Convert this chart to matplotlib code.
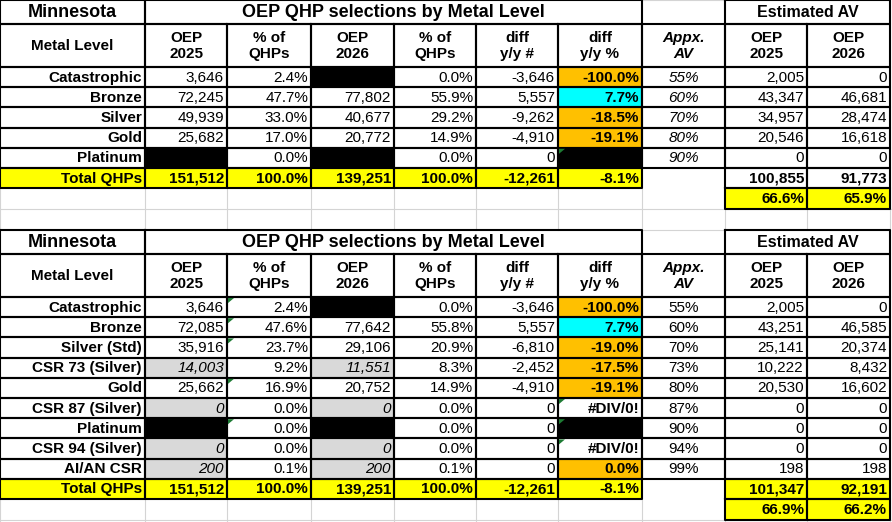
import matplotlib
matplotlib.use('Agg')
import matplotlib.pyplot as plt
from matplotlib.patches import Rectangle, Polygon

plt.rcParams['font.family'] = ['Liberation Sans', 'DejaVu Sans']

# ---- data: top table (simple metal levels) ----
levels1 = ['Catastrophic', 'Bronze', 'Silver', 'Gold', 'Platinum']
oep25_1 = [3646, 72245, 49939, 25682, None]
pct25_1 = [2.4, 47.7, 33.0, 17.0, 0.0]
oep26_1 = [None, 77802, 40677, 20772, None]
pct26_1 = [0.0, 55.9, 29.2, 14.9, 0.0]
diff_1 = [-3646, 5557, -9262, -4910, 0]
diffpct_1 = [-100.0, 7.7, -18.5, -19.1, None]
av_1 = [55, 60, 70, 80, 90]
est25_1 = [2005, 43347, 34957, 20546, 0]
est26_1 = [0, 46681, 28474, 16618, 0]
tot_1 = [151512, 100.0, 139251, 100.0, -12261, -8.1]
esttot_1 = [100855, 91773]
estpct_1 = [66.6, 65.9]

# ---- data: bottom table (with CSR breakout) ----
levels2 = ['Catastrophic', 'Bronze', 'Silver (Std)', 'CSR 73 (Silver)', 'Gold',
           'CSR 87 (Silver)', 'Platinum', 'CSR 94 (Silver)', 'AI/AN CSR']
oep25_2 = [3646, 72085, 35916, 14003, 25662, 0, None, 0, 200]
pct25_2 = [2.4, 47.6, 23.7, 9.2, 16.9, 0.0, 0.0, 0.0, 0.1]
oep26_2 = [None, 77642, 29106, 11551, 20752, 0, None, 0, 200]
pct26_2 = [0.0, 55.8, 20.9, 8.3, 14.9, 0.0, 0.0, 0.0, 0.1]
diff_2 = [-3646, 5557, -6810, -2452, -4910, 0, 0, 0, 0]
diffpct_2 = [-100.0, 7.7, -19.0, -17.5, -19.1, '#DIV/0!', None, '#DIV/0!', 0.0]
av_2 = [55, 60, 70, 73, 80, 87, 90, 94, 99]
est25_2 = [2005, 43251, 25141, 10222, 20530, 0, 0, 0, 198]
est26_2 = [0, 46585, 20374, 8432, 16602, 0, 0, 0, 198]
tot_2 = [151512, 100.0, 139251, 100.0, -12261, -8.1]
esttot_2 = [101347, 92191]
estpct_2 = [66.9, 66.2]
csr_rows_2 = [3, 5, 7, 8]

col_heads = ['Metal Level', 'OEP\n2025', '% of\nQHPs', 'OEP\n2026', '% of\nQHPs',
             'diff\ny/y #', 'diff\ny/y %', 'Appx.\nAV', 'OEP\n2025', 'OEP\n2026']

ORANGE = '#FFC000'
CYAN = '#00FFFF'
YELLOW = '#FFFF00'
GRAY = '#D9D9D9'
GRID = '#D4D4D4'
GREEN = '#1E7B34'

FS = 11      # cell text
FS_T = 13    # block title

xs = [0, 145, 227, 311, 394, 476, 558, 642, 725, 807, 890]
title_h = 24
head_h = 43
row_h = 20.2

fig = plt.figure(figsize=(8.92, 5.22), dpi=100)
ax = fig.add_axes([0, 0, 1, 1])
ax.set_xlim(0, 892)
ax.set_ylim(522, 0)
ax.axis('off')


def fmt_int(v):
    return f'{v:,}'


def fmt_pct(v):
    return f'{v:.1f}%'


def fill(c, y0, y1, color):
    ax.add_patch(Rectangle((xs[c], y0), xs[c + 1] - xs[c], y1 - y0,
                           facecolor=color, edgecolor='none', zorder=1))


def box(c0, c1, y0, y1, color='black', lw=1.5):
    ax.plot([xs[c0], xs[c1], xs[c1], xs[c0], xs[c0]], [y0, y0, y1, y1, y0],
            color=color, lw=lw, zorder=3, solid_capstyle='projecting')


def txt(c, y0, y1, s, ha='right', bold=False, italic=False, size=FS):
    if ha == 'right':
        x = xs[c + 1] - 3
    elif ha == 'center':
        x = (xs[c] + xs[c + 1]) / 2
    else:
        x = xs[c] + 3
    ax.text(x, (y0 + y1) / 2 + 0.5, s, ha=ha, va='center', fontsize=size,
            fontweight='bold' if bold else 'normal',
            fontstyle='italic' if italic else 'normal', zorder=4,
            linespacing=1.15)


def tri(c, y0):
    ax.add_patch(Polygon([(xs[c] + 1, y0 + 1), (xs[c] + 7, y0 + 1), (xs[c] + 1, y0 + 6)],
                         closed=True, facecolor=GREEN, edgecolor='none', zorder=5))


def draw_block(y0, levels, o25, p25, o26, p26, dif, dpct, av, e25, e26,
               tot, etot, epct, av_italic, csr_rows, tri_cells, yellow_tot, grid_to):
    n = len(levels)
    yh = y0 + title_h
    yd = yh + head_h
    ys = [yd + i * row_h for i in range(n + 1)]
    yt1 = ys[-1] + row_h
    yp1 = yt1 + 21

    # light spreadsheet grid in the blank rows below
    for c in range(len(xs)):
        ax.plot([xs[c], xs[c]], [yt1, grid_to], color=GRID, lw=0.8, zorder=0)
    ax.plot([0, 892], [yp1, yp1], color=GRID, lw=0.8, zorder=0)
    ax.plot([xs[7], xs[8]], [y0, y0], color=GRID, lw=0.8, zorder=0)

    # title row
    ax.text((xs[0] + xs[1]) / 2, (y0 + yh) / 2 + 0.5, 'Minnesota',
            ha='center', va='center', fontsize=FS_T, fontweight='bold', zorder=4)
    ax.text((xs[1] + xs[7]) / 2, (y0 + yh) / 2 + 0.5, 'OEP QHP selections by Metal Level',
            ha='center', va='center', fontsize=FS_T, fontweight='bold', zorder=4)
    ax.text((xs[8] + xs[10]) / 2, (y0 + yh) / 2 + 0.5, 'Estimated AV',
            ha='center', va='center', fontsize=11.5, fontweight='bold', zorder=4)
    box(0, 1, y0, yh)
    box(1, 7, y0, yh)
    box(8, 10, y0, yh)

    # header row
    for c, h in enumerate(col_heads):
        txt(c, yh, yd, h, ha='center', bold=True, italic=(c == 7))
        box(c, c + 1, yh, yd)

    # data rows
    for i in range(n):
        a, b = ys[i], ys[i + 1]
        italic_csr = i in csr_rows
        txt(0, a, b, levels[i], bold=True)
        for c, v in ((1, o25[i]), (3, o26[i])):
            if v is None:
                fill(c, a, b, 'black')
            else:
                if italic_csr:
                    fill(c, a, b, GRAY)
                txt(c, a, b, fmt_int(v), italic=italic_csr)
        txt(2, a, b, fmt_pct(p25[i]))
        txt(4, a, b, fmt_pct(p26[i]))
        txt(5, a, b, fmt_int(dif[i]))
        d = dpct[i]
        if d is None:
            fill(6, a, b, 'black')
        elif isinstance(d, str):
            txt(6, a, b, d, bold=True)
        else:
            fill(6, a, b, CYAN if d > 0 else ORANGE)
            txt(6, a, b, fmt_pct(d), bold=True)
        txt(7, a, b, f'{av[i]}%', ha='center', italic=av_italic)
        txt(8, a, b, fmt_int(e25[i]))
        txt(9, a, b, fmt_int(e26[i]))
        for c in range(10):
            box(c, c + 1, a, b)

    for (r, c) in tri_cells:
        tri(c, ys[r])

    # total row
    a, b = ys[-1], yt1
    for c in range(7):
        fill(c, a, b, YELLOW)
    txt(0, a, b, 'Total QHPs', bold=True)
    txt(1, a, b, fmt_int(tot[0]), bold=True)
    txt(2, a, b, fmt_pct(tot[1]), bold=True)
    txt(3, a, b, fmt_int(tot[2]), bold=True)
    txt(4, a, b, fmt_pct(tot[3]), bold=True)
    txt(5, a, b, fmt_int(tot[4]), bold=True)
    txt(6, a, b, fmt_pct(tot[5]), bold=True)
    for c in range(7):
        box(c, c + 1, a, b)
    if yellow_tot:
        fill(8, a, b, YELLOW)
        fill(9, a, b, YELLOW)
    txt(8, a, b, fmt_int(etot[0]), bold=True)
    txt(9, a, b, fmt_int(etot[1]), bold=True)
    box(8, 9, a, b)
    box(9, 10, a, b)

    # AV % row
    a, b = yt1, yp1
    fill(8, a, b, YELLOW)
    fill(9, a, b, YELLOW)
    txt(8, a, b, fmt_pct(epct[0]), bold=True)
    txt(9, a, b, fmt_pct(epct[1]), bold=True)
    box(8, 9, a, b)
    box(9, 10, a, b)


draw_block(0, levels1, oep25_1, pct25_1, oep26_1, pct26_1, diff_1, diffpct_1, av_1,
           est25_1, est26_1, tot_1, esttot_1, estpct_1, True, [], [(4, 6)], False, 230)
draw_block(230, levels2, oep25_2, pct25_2, oep26_2, pct26_2, diff_2, diffpct_2, av_2,
           est25_2, est26_2, tot_2, esttot_2, estpct_2, False, csr_rows_2,
           [(0, 2), (1, 2), (2, 2), (4, 2), (6, 2), (5, 6), (6, 6), (7, 6)], True, 522)

fig.savefig('out.png', dpi=100)
